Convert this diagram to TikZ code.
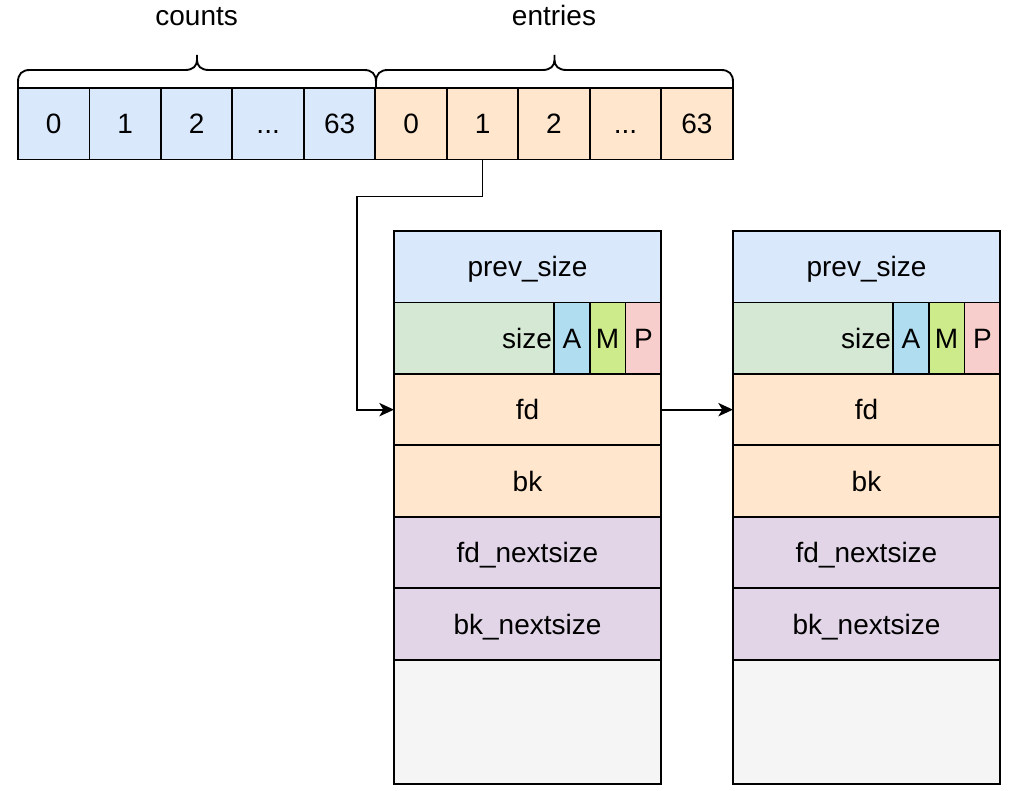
\documentclass[tikz,border=0pt]{standalone}
\usepackage{fontspec}
\setmainfont{Liberation Sans}
\usetikzlibrary{arrows.meta,positioning,calc}
\definecolor{binblue}{HTML}{DAE8FC}
\definecolor{binorange}{HTML}{FFE6CC}
\definecolor{sizegreen}{HTML}{D5E8D4}
\definecolor{nextpurple}{HTML}{E1D5E7}
\definecolor{restgray}{HTML}{F5F5F5}
\definecolor{flaga}{HTML}{B1DDF0}
\definecolor{flagm}{HTML}{CDEB8B}
\definecolor{flagp}{HTML}{F8CECC}
\tikzset{
  cell/.style={draw, rectangle, line width=1.4pt, outer sep=0pt, inner sep=0pt, minimum width=53.6pt, minimum height=53.6pt, text height=17pt, text depth=2pt}, % one slot of the bin array
  countcell/.style={cell, fill=binblue},
  entrycell/.style={cell, fill=binorange},
  field/.style={cell, minimum width=200.25pt}, % one row of a chunk
  flag/.style={cell, minimum width=26.8pt},
  sizefield/.style={cell, fill=sizegreen, minimum width=120pt, text width=117pt, align=right, inner xsep=1.5pt},
  bracestyle/.style={draw, line width=1.4pt, line join=round},
  link/.style={draw, line width=1.4pt, -{Stealth[length=11pt,width=10pt,inset=3pt]}}
}
% brace over the array, ends in px
\newcommand{\topbrace}[2]{%
  \pgfmathsetmacro{\bmid}{(#1+#2)/2}
  \draw[bracestyle] (\bmid,55) -- (\bmid,60) .. controls (\bmid,66) and (\bmid-4,70) .. (\bmid-12,70) -- (#1+12,70) .. controls (#1+4,70) and (#1,74) .. (#1,82) -- (#1,88)
    (\bmid,55) -- (\bmid,60) .. controls (\bmid,66) and (\bmid+4,70) .. (\bmid+12,70) -- (#2-12,70) .. controls (#2-4,70) and (#2,74) .. (#2,82) -- (#2,88);
}
\begin{document}
\begin{tikzpicture}[x=0.75pt, y=-0.75pt, font=\fontsize{21}{25}\selectfont]
    \useasboundingbox (0,0) rectangle (1011,791);

    % Bin array
    \node [countcell, anchor=north west] (c0) at (18,88) {0};
    \node [countcell, right=0pt of c0] (c1) {1};
    \node [countcell, right=0pt of c1] (c2) {2};
    \node [countcell, right=0pt of c2] (c3) {...};
    \node [countcell, right=0pt of c3] (c4) {63};
    \node [entrycell, right=0pt of c4] (e0) {0};
    \node [entrycell, right=0pt of e0] (e1) {1};
    \node [entrycell, right=0pt of e1] (e2) {2};
    \node [entrycell, right=0pt of e2] (e3) {...};
    \node [entrycell, right=0pt of e3] (e4) {63};

    % Braces and labels
    \topbrace{18}{376}
    \topbrace{376}{733}
    \node [anchor=base] (countsLabel) at ($(c2.north)+(0,-62)$) {counts};
    \node [anchor=base] (entriesLabel) at ($(e2.north)+(0,-62)$) {entries};

    % First chunk
    \node [field, fill=binblue, anchor=north west] (prevA) at (394,231) {prev\_size};
    \node [sizefield, anchor=north west] (sizeA) at (prevA.south west) {size};
    \node [flag, fill=flaga, right=0pt of sizeA] (flagAA) {A};
    \node [flag, fill=flagm, right=0pt of flagAA] (flagMA) {M};
    \node [flag, fill=flagp, right=0pt of flagMA] (flagPA) {P};
    \node [field, fill=binorange, anchor=north west] (fdA) at (sizeA.south west) {fd};
    \node [field, fill=binorange, below=0pt of fdA] (bkA) {bk};
    \node [field, fill=nextpurple, below=0pt of bkA] (fdnA) {fd\_nextsize};
    \node [field, fill=nextpurple, below=0pt of fdnA] (bknA) {bk\_nextsize};
    \node [field, fill=restgray, minimum height=93pt, below=0pt of bknA] (restA) {};

    % Second chunk
    \node [field, fill=binblue, right=54pt of prevA] (prevB) {prev\_size};
    \node [sizefield, anchor=north west] (sizeB) at (prevB.south west) {size};
    \node [flag, fill=flaga, right=0pt of sizeB] (flagAB) {A};
    \node [flag, fill=flagm, right=0pt of flagAB] (flagMB) {M};
    \node [flag, fill=flagp, right=0pt of flagMB] (flagPB) {P};
    \node [field, fill=binorange, anchor=north west] (fdB) at (sizeB.south west) {fd};
    \node [field, fill=binorange, below=0pt of fdB] (bkB) {bk};
    \node [field, fill=nextpurple, below=0pt of bkB] (fdnB) {fd\_nextsize};
    \node [field, fill=nextpurple, below=0pt of fdnB] (bknB) {bk\_nextsize};
    \node [field, fill=restgray, minimum height=93pt, below=0pt of bknB] (restB) {};

    % Edges
    \draw[link] (e1.south) -- ++(0,37) -| ($(fdA.west)+(-37,0)$) -- (fdA.west);
    \draw[link] (fdA.east) -- (fdB.west);

\end{tikzpicture}
\end{document}
